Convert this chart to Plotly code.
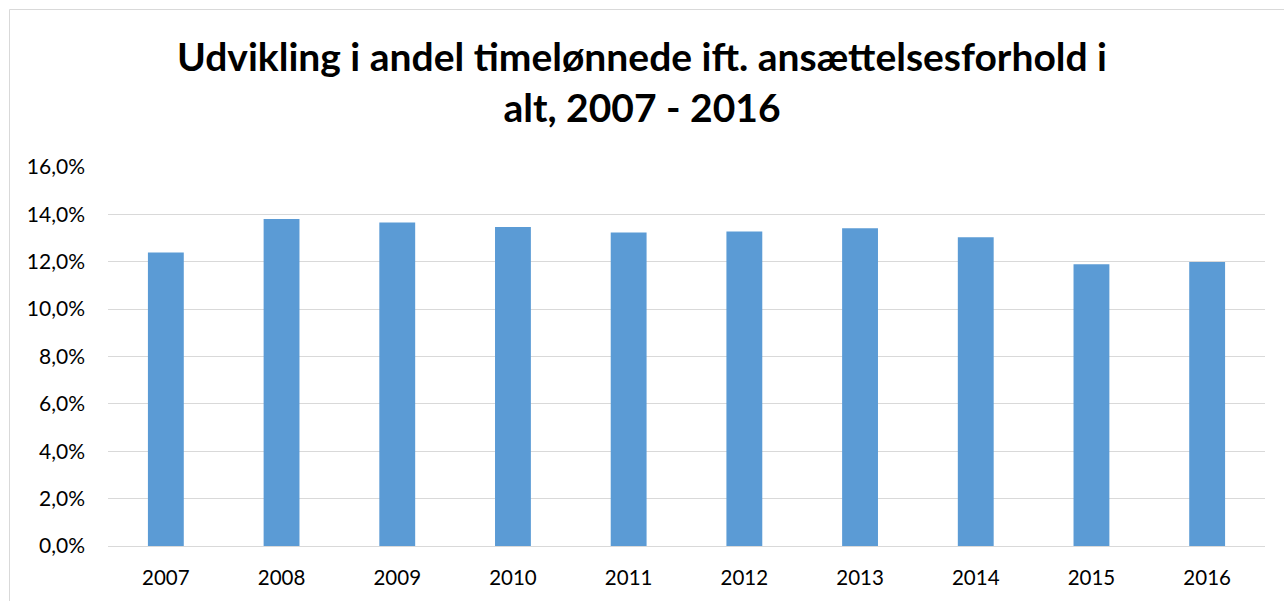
import plotly.graph_objects as go

years = ["2007", "2008", "2009", "2010", "2011", "2012", "2013", "2014", "2015", "2016"]
andel = [0.1239, 0.1380, 0.1366, 0.1347, 0.1324, 0.1328, 0.1341, 0.1303, 0.1189, 0.1199]
y_tickvals = [0, 0.02, 0.04, 0.06, 0.08, 0.10, 0.12, 0.14, 0.16]
y_ticktext = ["0,0%", "2,0%", "4,0%", "6,0%", "8,0%", "10,0%", "12,0%", "14,0%", "16,0%"]
title_text = "Udvikling i andel timelønnede ift. ansættelsesforhold i<br>alt, 2007 - 2016"

W, H = 1284, 601
ml, mr, mt, mb = 108, 19, 167, 55
pw, ph = W - ml - mr, H - mt - mb

fig = go.Figure(go.Bar(x=years, y=andel, marker=dict(color="#5b9bd5", line=dict(width=0))))

fig.update_layout(
    width=W, height=H,
    margin=dict(l=ml, r=mr, t=mt, b=mb),
    plot_bgcolor="white", paper_bgcolor="white",
    bargap=0.69,
    font=dict(family="Lato, sans-serif", color="#000000"),
    title=dict(text=title_text, x=0.5, xanchor="center", xref="container",
               y=1 - 71 / H, yanchor="top", yref="container",
               font=dict(size=39, family="Lato, sans-serif", weight="bold", color="#000000")),
    showlegend=False,
    shapes=[dict(type="rect", xref="paper", yref="paper",
                 x0=(9.5 - ml) / pw, x1=(W + 10 - ml) / pw,
                 y0=-(mb + 10) / ph, y1=(H - mb - 9.5) / ph,
                 line=dict(color="#d9d9d9", width=1), layer="below")],
)
fig.update_xaxes(showgrid=False, showline=False, ticks="", tickfont=dict(size=20.5, color="#000000"),
                 ticklabelstandoff=17)
fig.update_yaxes(range=[0, 0.16], tickvals=y_tickvals, ticktext=y_ticktext,
                 showgrid=True, gridcolor="#d9d9d9", gridwidth=1.3,
                 zeroline=True, zerolinecolor="#d9d9d9", zerolinewidth=1.3,
                 showline=False, ticks="", tickfont=dict(size=21, color="#000000"),
                 ticklabelstandoff=22)

fig.write_html("out.html", config={"displayModeBar": False},
               post_script="document.body.style.margin='0';document.body.style.overflow='hidden';")
